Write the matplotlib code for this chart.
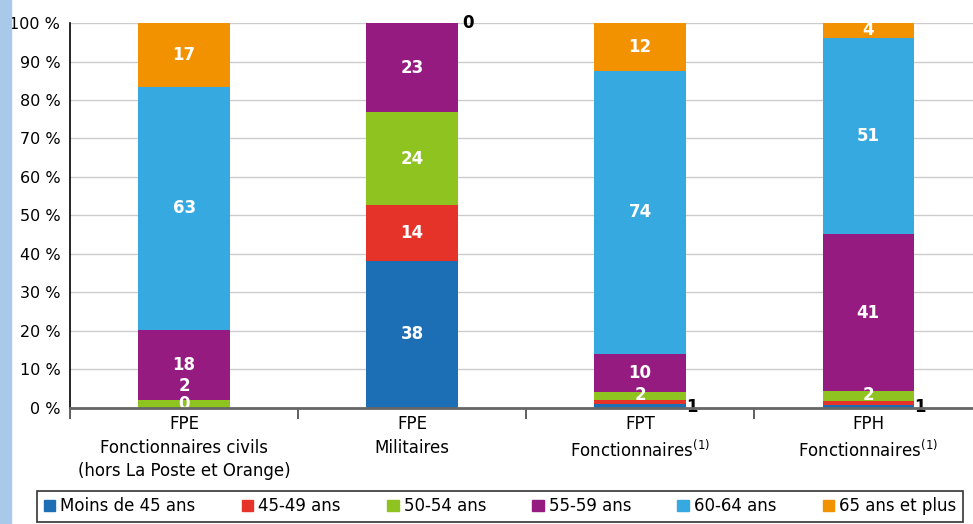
import matplotlib.pyplot as plt
import numpy as np
from matplotlib.patches import Rectangle

plt.rcParams['font.family'] = ['Liberation Sans Narrow', 'DejaVu Sans']

# Data
categories = ['FPE\nFonctionnaires civils\n(hors La Poste et Orange)',
              'FPE\nMilitaires',
              'FPT\nFonctionnaires$^{(1)}$',
              'FPH\nFonctionnaires$^{(1)}$']
age_groups = ['Moins de 45 ans', '45-49 ans', '50-54 ans', '55-59 ans', '60-64 ans', '65 ans et plus']
moins45 = [0.0, 38.2, 1.0, 0.9]
a45_49 = [0.0, 14.4, 1.0, 1.0]
a50_54 = [2.0, 24.2, 2.2, 2.4]
a55_59 = [18.3, 23.2, 9.8, 40.8]
a60_64 = [63.1, 0.0, 73.6, 51.0]
a65plus = [16.6, 0.0, 12.4, 3.9]
series = [moins45, a45_49, a50_54, a55_59, a60_64, a65plus]
colors = ['#1d6fb5', '#e6332a', '#8fc31f', '#951b81', '#36a9e1', '#f39200']

fig = plt.figure(figsize=(9.73, 5.24), dpi=100)
fig.patches.append(Rectangle((0, 0), 0.011, 1, transform=fig.transFigure,
                             color='#a9c9ea', zorder=0))
ax = fig.add_axes([0.072, 0.2214, 0.928, 0.7347])

x = np.arange(len(categories))
width = 0.4
bottom = np.zeros(len(categories))
for vals, col in zip(series, colors):
    ax.bar(x, vals, width, bottom=bottom, color=col, zorder=3)
    bottom += np.array(vals)

# labels inside bars (white), small ones handled separately
def lab(i, s, y, color='white', dx=0.0, ha='center'):
    ax.text(x[i] + dx, y, s, color=color, ha=ha, va='center',
            fontsize=12, fontweight='bold', zorder=4)

cum = np.cumsum(np.array(series), axis=0)
starts = cum - np.array(series)
for k in range(len(series)):
    for i in range(len(categories)):
        v = series[k][i]
        if v >= 8:
            lab(i, f"{v:.0f}", starts[k][i] + v / 2)

# small segments
lab(0, '0', 1.0)
lab(0, '2', 5.8)
lab(1, '0', 100, color='black', dx=width / 2 + 0.02, ha='left')
lab(2, '2', 3.3)
lab(2, '1', 0.3, color='black', dx=width / 2, ha='left')
lab(3, '2', 3.5)
lab(3, '1', 0.3, color='black', dx=width / 2, ha='left')
lab(3, '4', 98.2)

ax.set_xlim(-0.5, 3.46)
ax.set_ylim(0, 100)
ax.set_yticks(range(0, 101, 10))
ax.set_yticklabels([f"{t} %" for t in range(0, 101, 10)], fontsize=11.5)
ax.yaxis.grid(True, color='#cccccc', linewidth=1, zorder=0)
ax.set_axisbelow(True)
ax.tick_params(axis='y', length=0, pad=7)

ax.set_xticks(x)
ax.set_xticklabels(categories, fontsize=12, linespacing=1.4)
ax.tick_params(axis='x', length=0, pad=5)
# boundary ticks between categories
ax.set_xticks(np.arange(-0.5, 3.5, 1.0), minor=True)
ax.tick_params(axis='x', which='minor', length=8, width=1.2, color='#444444')

for s in ['top', 'right']:
    ax.spines[s].set_visible(False)
ax.spines['left'].set_color('black')
ax.spines['left'].set_linewidth(1.2)
ax.spines['bottom'].set_color('#666666')
ax.spines['bottom'].set_linewidth(2)
ax.spines['bottom'].set_zorder(5)

handles = [Rectangle((0, 0), 1, 1, color=c) for c in colors]
leg = fig.legend(handles, age_groups, ncol=6, loc='lower left',
                 bbox_to_anchor=(0.038, 0.004, 0.952, 0.067), mode='expand',
                 fontsize=12, frameon=True, fancybox=False, edgecolor='black',
                 handlelength=0.7, handleheight=0.7, handletextpad=0.3,
                 borderaxespad=0)
leg.get_frame().set_linewidth(1.2)

fig.savefig('out.png', dpi=100)
